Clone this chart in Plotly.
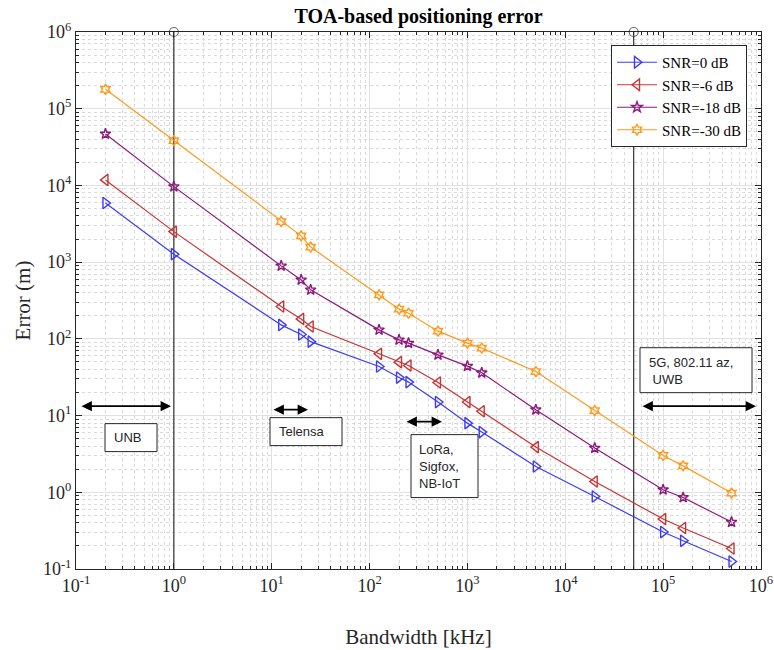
import plotly.graph_objects as go

# ---------------- data ----------------
bandwidth_khz = [0.2, 1, 12.5, 20, 25, 125, 200, 250, 500, 1000, 1400,
                 5000, 20000, 100000, 160000, 500000]

err_snr0 = [5900, 1270, 152, 114, 92, 43.6, 31.3, 27.3, 15.0, 7.97, 6.09,
            2.17, 0.88, 0.303, 0.233, 0.125]
err_snr6 = [11800, 2500, 264, 182, 145, 63.8, 49.7, 44.9, 27.0, 15.0, 11.4,
            3.88, 1.38, 0.448, 0.342, 0.185]
err_snr18 = [46900, 9650, 894, 587, 435, 131, 97, 87.9, 61.9, 44.1, 36.1,
             11.9, 3.77, 1.08, 0.855, 0.409]
err_snr30 = [179000, 38300, 3380, 2200, 1570, 374, 244, 216, 126, 87.9, 75.7,
             37.5, 11.6, 3.02, 2.21, 0.976]

series_names = ["SNR=0 dB", "SNR=-6 dB", "SNR=-18 dB", "SNR=-30 dB"]
series_values = [err_snr0, err_snr6, err_snr18, err_snr30]
series_colors = ["#3c3cf5", "#c83434", "#8a1a7c", "#ff9a1e"]
series_symbols = ["triangle-right-open", "triangle-left-open", "star-open", "hexagram-open"]
series_sizes = [10, 10, 8, 8]

stem_x = [1, 50000]
stem_y = [0.1, 1e6]

x_tick_vals = [1e-1, 1e0, 1e1, 1e2, 1e3, 1e4, 1e5, 1e6]
x_tick_text = ["10<sup>-1</sup>", "10<sup>0</sup>", "10<sup>1</sup>", "10<sup>2</sup>",
               "10<sup>3</sup>", "10<sup>4</sup>", "10<sup>5</sup>", "10<sup>6</sup>"]
y_tick_vals = [1e-1, 1e0, 1e1, 1e2, 1e3, 1e4, 1e5, 1e6]
y_tick_text = x_tick_text

region_labels = ["UNB", "Telensa", "LoRa,<br>Sigfox,<br>NB-IoT", "5G, 802.11 az,<br> UWB"]

# ---------------- figure ----------------
L, R, T, B = 76, 13, 32, 80.5
W, H = 774, 650
PW, PH = W - L - R, H - T - B


def px(x):
    return (x - L) / PW


def py(y):
    return (H - B - y) / PH


fig = go.Figure()

for xs in stem_x:
    fig.add_trace(go.Scatter(
        x=[xs, xs], y=stem_y, mode="lines+markers",
        line=dict(color="#333333", width=1.2),
        marker=dict(symbol="circle-open", size=[0, 9], color="#333333",
                    line=dict(width=1.2)),
        showlegend=False, cliponaxis=False, hoverinfo="skip"))

for name, vals, col, sym, sz in zip(series_names, series_values, series_colors,
                                    series_symbols, series_sizes):
    fig.add_trace(go.Scatter(
        x=bandwidth_khz, y=vals, mode="lines+markers", name=name,
        line=dict(color=col, width=1.2),
        marker=dict(symbol=sym, size=sz, color=col,
                    line=dict(width=1.4, color=col))))

minor_vals = [m * 10 ** e for e in range(-1, 6) for m in range(2, 10)]

axis_common = dict(
    type="log", showline=True, linecolor="#262626", linewidth=1, mirror="allticks",
    ticks="inside", ticklen=6, tickcolor="#262626",
    showgrid=True, gridcolor="#e1e1e1", gridwidth=1,
    tickfont=dict(family="Liberation Serif", size=18, color="#262626"),
    zeroline=False, automargin=False,
    minor=dict(tickvals=minor_vals, ticks="inside", ticklen=3, tickcolor="#262626",
               showgrid=True, gridcolor="#dadada", griddash="dot", gridwidth=1),
)

fig.update_xaxes(**axis_common, range=[-1, 6], tickvals=x_tick_vals, ticktext=x_tick_text,
                 title=dict(text="Bandwidth [kHz]", standoff=34,
                            font=dict(family="Liberation Serif", size=21, color="#262626")))
fig.update_yaxes(**axis_common, range=[-1, 6], tickvals=y_tick_vals, ticktext=y_tick_text,
                 title=dict(text="Error (m)", standoff=6,
                            font=dict(family="Liberation Serif", size=21, color="#262626")))

shapes = []
annotations = []

boxes = [
    (105, 424, 157, 452),
    (270, 418, 342, 446),
    (411, 435, 478, 498),
    (640, 348, 752, 393),
]
text_pos = [(112, 438), (277, 432), (417, 467), (647, 371)]
for (x0, y0, x1, y1), (tx, ty), lab in zip(boxes, text_pos, region_labels):
    shapes.append(dict(type="rect", xref="paper", yref="paper",
                       x0=px(x0), x1=px(x1), y0=py(y1), y1=py(y0),
                       line=dict(color="#262626", width=1), fillcolor="white", layer="above"))
    annotations.append(dict(xref="paper", yref="paper", x=px(tx), y=py(ty),
                            xanchor="left", yanchor="middle", align="left",
                            text=lab, showarrow=False,
                            font=dict(family="Liberation Sans", size=13, color="#262626")))

arrows = [(80, 171, 406.5), (272, 308, 410), (405, 442, 422), (641, 756, 406.5)]
for x0, x1, y in arrows:
    annotations.append(dict(xref="paper", yref="paper", x=px(x1), y=py(y),
                            ax=-(x1 - x0), ay=0, axref="pixel", ayref="pixel",
                            showarrow=True, arrowside="end+start", arrowhead=2,
                            arrowsize=1.3, arrowwidth=1.6, arrowcolor="black", text=""))

fig.update_layout(
    width=W, height=H,
    margin=dict(l=L, r=R, t=T, b=B, autoexpand=False),
    paper_bgcolor="white", plot_bgcolor="white",
    title=dict(text="<b>TOA-based positioning error</b>", xref="container",
               x=418.5 / W, xanchor="center",
               yref="container", y=1 - 16 / H, yanchor="middle", automargin=False,
               font=dict(family="Liberation Serif", size=20, color="black")),
    legend=dict(x=px(747), y=py(45), xanchor="right", yanchor="top",
                bgcolor="white", bordercolor="#262626", borderwidth=1,
                font=dict(family="Liberation Serif", size=15, color="black"),
                tracegroupgap=0, itemwidth=40),
    shapes=shapes, annotations=annotations,
)

fig.write_html("out.html", config={"displayModeBar": False},
               post_script="document.body.style.margin='0px';document.body.style.overflow='hidden';")
